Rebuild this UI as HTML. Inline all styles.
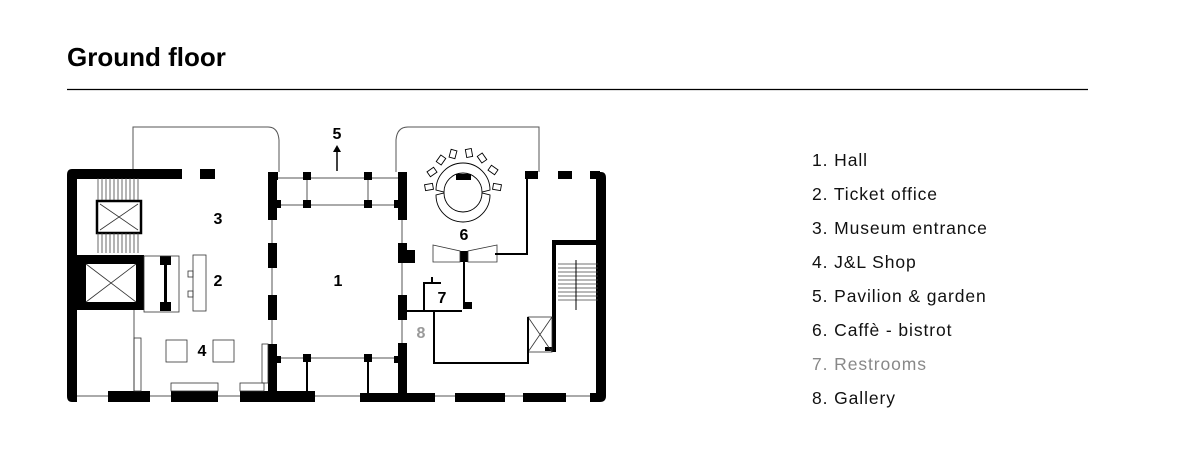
<!DOCTYPE html>
<html><head><meta charset="utf-8"><style>
html,body{margin:0;padding:0;background:#fff;width:1182px;height:460px;overflow:hidden;font-family:"Liberation Sans",sans-serif}
</style></head><body>
<svg width="1182" height="460" viewBox="0 0 1182 460" xmlns="http://www.w3.org/2000/svg" font-family="Liberation Sans, sans-serif">
<text x="67" y="66" font-size="26" font-weight="bold" fill="#000">Ground floor</text>
<line x1="67" y1="89.5" x2="1088" y2="89.5" stroke="#000" stroke-width="1.3"/>
<g font-size="17.5" fill="#111" letter-spacing="0.9">
<text x="812" y="166">1. Hall</text>
<text x="812" y="200">2. Ticket office</text>
<text x="812" y="234">3. Museum entrance</text>
<text x="812" y="268">4. J&amp;L Shop</text>
<text x="812" y="302">5. Pavilion &amp; garden</text>
<text x="812" y="336">6. Caffè - bistrot</text>
<text x="812" y="370" fill="#888">7. Restrooms</text>
<text x="812" y="404">8. Gallery</text>
</g>
<g stroke="#555" stroke-width="1" fill="none">
<path d="M133 178 V127 H268 Q278 127 279 140 V172"/>
<path d="M396 172 V140 Q397 127 408 127 H539 V172"/>
<line x1="76" y1="396" x2="600" y2="396"/>
<line x1="272" y1="172" x2="272" y2="396"/>
<line x1="402" y1="172" x2="402" y2="396"/>
<line x1="278" y1="178" x2="398" y2="178"/>
<line x1="278" y1="205" x2="398" y2="205"/>
<line x1="278" y1="358" x2="398" y2="358"/>
<line x1="307" y1="178" x2="307" y2="205"/>
<line x1="368" y1="178" x2="368" y2="205"/>
<line x1="134" y1="310" x2="134" y2="391"/>
</g>
<g fill="#000">
<path d="M72 169 H182 V179 H77 V402 H72 Q67 402 67 396 V175 Q67 169 72 169Z"/>
<rect x="200" y="169" width="15" height="10"/>
<rect x="108" y="391" width="42" height="11"/>
<rect x="171" y="391" width="47" height="11"/>
<rect x="240" y="391" width="75" height="11"/>
<rect x="268" y="172" width="9" height="48"/>
<rect x="268" y="172" width="10" height="8"/>
<rect x="268" y="200" width="13" height="8"/>
<rect x="268" y="243" width="9" height="25"/>
<rect x="268" y="295" width="9" height="25"/>
<rect x="268" y="344" width="9" height="58"/>
<rect x="268" y="356" width="13" height="7"/>
<rect x="398" y="172" width="9" height="48"/>
<rect x="394" y="200" width="13" height="8"/>
<rect x="398" y="243" width="9" height="20"/>
<rect x="398" y="250" width="17" height="13"/>
<rect x="398" y="295" width="9" height="25"/>
<rect x="398" y="343" width="9" height="59"/>
<rect x="394" y="356" width="13" height="7"/>
<rect x="303" y="172" width="8" height="8"/>
<rect x="364" y="172" width="8" height="8"/>
<rect x="303" y="200" width="8" height="8"/>
<rect x="364" y="200" width="8" height="8"/>
<rect x="303" y="354" width="8" height="8"/>
<rect x="364" y="354" width="8" height="8"/>
<rect x="306" y="358" width="2" height="36"/>
<rect x="367" y="358" width="2" height="36"/>
<rect x="268" y="393" width="46" height="9"/>
<rect x="360" y="393" width="75" height="9"/>
<rect x="455" y="393" width="50" height="9"/>
<rect x="523" y="393" width="43" height="9"/>
<path d="M596 172 H601 Q606 172 606 178 V396 Q606 402 600 402 H590 V393 H596Z"/>
<rect x="525" y="171" width="13" height="8"/>
<rect x="558" y="171" width="14" height="8"/>
<rect x="590" y="171" width="10" height="8"/>
<rect x="76" y="255" width="68" height="55"/>
<rect x="460" y="251" width="8" height="11"/>
<rect x="160" y="256" width="11" height="9"/>
<rect x="160" y="302" width="11" height="9"/>
<rect x="164" y="256" width="3" height="55"/>
<rect x="464" y="302" width="8" height="7"/>
<rect x="554" y="240" width="49" height="5"/>
<rect x="552" y="240" width="4" height="112"/>
<rect x="545" y="347" width="9" height="4"/>
</g>
<rect x="86" y="264" width="50" height="38" fill="#fff"/>
<g stroke="#333" stroke-width="0.8" fill="none">
<line x1="86" y1="264" x2="136" y2="302"/><line x1="136" y1="264" x2="86" y2="302"/>
<rect x="97" y="201" width="44" height="32" stroke="#000" stroke-width="2.5"/>
<line x1="100" y1="204" x2="138" y2="230"/><line x1="138" y1="204" x2="100" y2="230"/>
<rect x="144" y="256" width="35" height="56"/>
<rect x="193" y="255" width="13" height="56"/>
<rect x="188" y="271" width="5" height="6"/><rect x="188" y="291" width="5" height="6"/>
<rect x="166" y="340" width="21" height="22"/><rect x="213" y="340" width="21" height="22"/>
<rect x="134" y="338" width="7" height="53"/>
<rect x="171" y="383" width="47" height="8"/>
<rect x="240" y="383" width="24" height="8"/>
<rect x="262" y="344" width="6" height="39"/>
<rect x="528" y="317" width="24" height="35"/>
<line x1="528" y1="317" x2="552" y2="352"/><line x1="552" y1="317" x2="528" y2="352"/>
<path d="M433 245 L460 251 L460 262 L433 262Z"/>
<path d="M497 245 L468 251 L468 262 L497 262Z"/>
</g>
<g stroke="#444" stroke-width="0.8">
<path d="M98 178 V200 M102 178 V200 M106 178 V200 M110 178 V200 M114 178 V200 M118 178 V200 M122 178 V200 M126 178 V200 M130 178 V200 M134 178 V200 M138 178 V200 M98 233 V253 M102 233 V253 M106 233 V253 M110 233 V253 M114 233 V253 M118 233 V253 M122 233 V253 M126 233 V253 M130 233 V253 M134 233 V253 M138 233 V253"/>
<path d="M558 264 H598 M558 268 H598 M558 272 H598 M558 276 H598 M558 280 H598 M558 284 H598 M558 288 H598 M558 292 H598 M558 296 H598 M558 300 H598"/>
</g>
<line x1="576" y1="260" x2="576" y2="310" stroke="#000" stroke-width="1"/>
<g stroke="#000" stroke-width="2" fill="none">
<path d="M527 177 V254 H495"/>
<path d="M464 262 V309"/>
<path d="M407 311 H462"/>
<path d="M424 312 V283 H441"/>
<path d="M432 277 V283"/>
<path d="M434 312 V363 H528 V317"/>
</g>
<g stroke="#000" stroke-width="0.9" fill="#fff">
<rect x="425" y="184" width="8" height="6" transform="rotate(-10 429 187)"/>
<rect x="428" y="169" width="8" height="6" transform="rotate(-35 432 172)"/>
<rect x="437" y="157" width="8" height="6" transform="rotate(-55 441 160)"/>
<rect x="449" y="151" width="8" height="6" transform="rotate(-75 453 154)"/>
<rect x="465" y="150" width="8" height="6" transform="rotate(80 469 153)"/>
<rect x="478" y="155" width="8" height="6" transform="rotate(55 482 158)"/>
<rect x="489" y="167" width="8" height="6" transform="rotate(35 493 170)"/>
<rect x="493" y="184" width="8" height="6" transform="rotate(10 497 187)"/>
<path d="M436 190 A27 27 0 0 1 490 190 L482 192 A19 19 0 0 0 444 192 Z"/>
<path d="M436 195 A27 27 0 0 0 490 195 L482 193 A19 19 0 0 1 444 193 Z"/>
</g>
<rect x="456" y="174" width="15" height="6" fill="#000"/>
<line x1="337" y1="171" x2="337" y2="150" stroke="#000" stroke-width="1.5"/>
<path d="M333 152 L337 145 L341 152Z" fill="#000"/>
<g font-size="16" font-weight="bold" fill="#000" text-anchor="middle">
<text x="337" y="139">5</text>
<text x="218" y="224">3</text>
<text x="218" y="286">2</text>
<text x="338" y="286">1</text>
<text x="202" y="356">4</text>
<text x="464" y="240">6</text>
<text x="442" y="303">7</text>
<text x="421" y="338" fill="#999">8</text>
</g>
</svg>
</body></html>
